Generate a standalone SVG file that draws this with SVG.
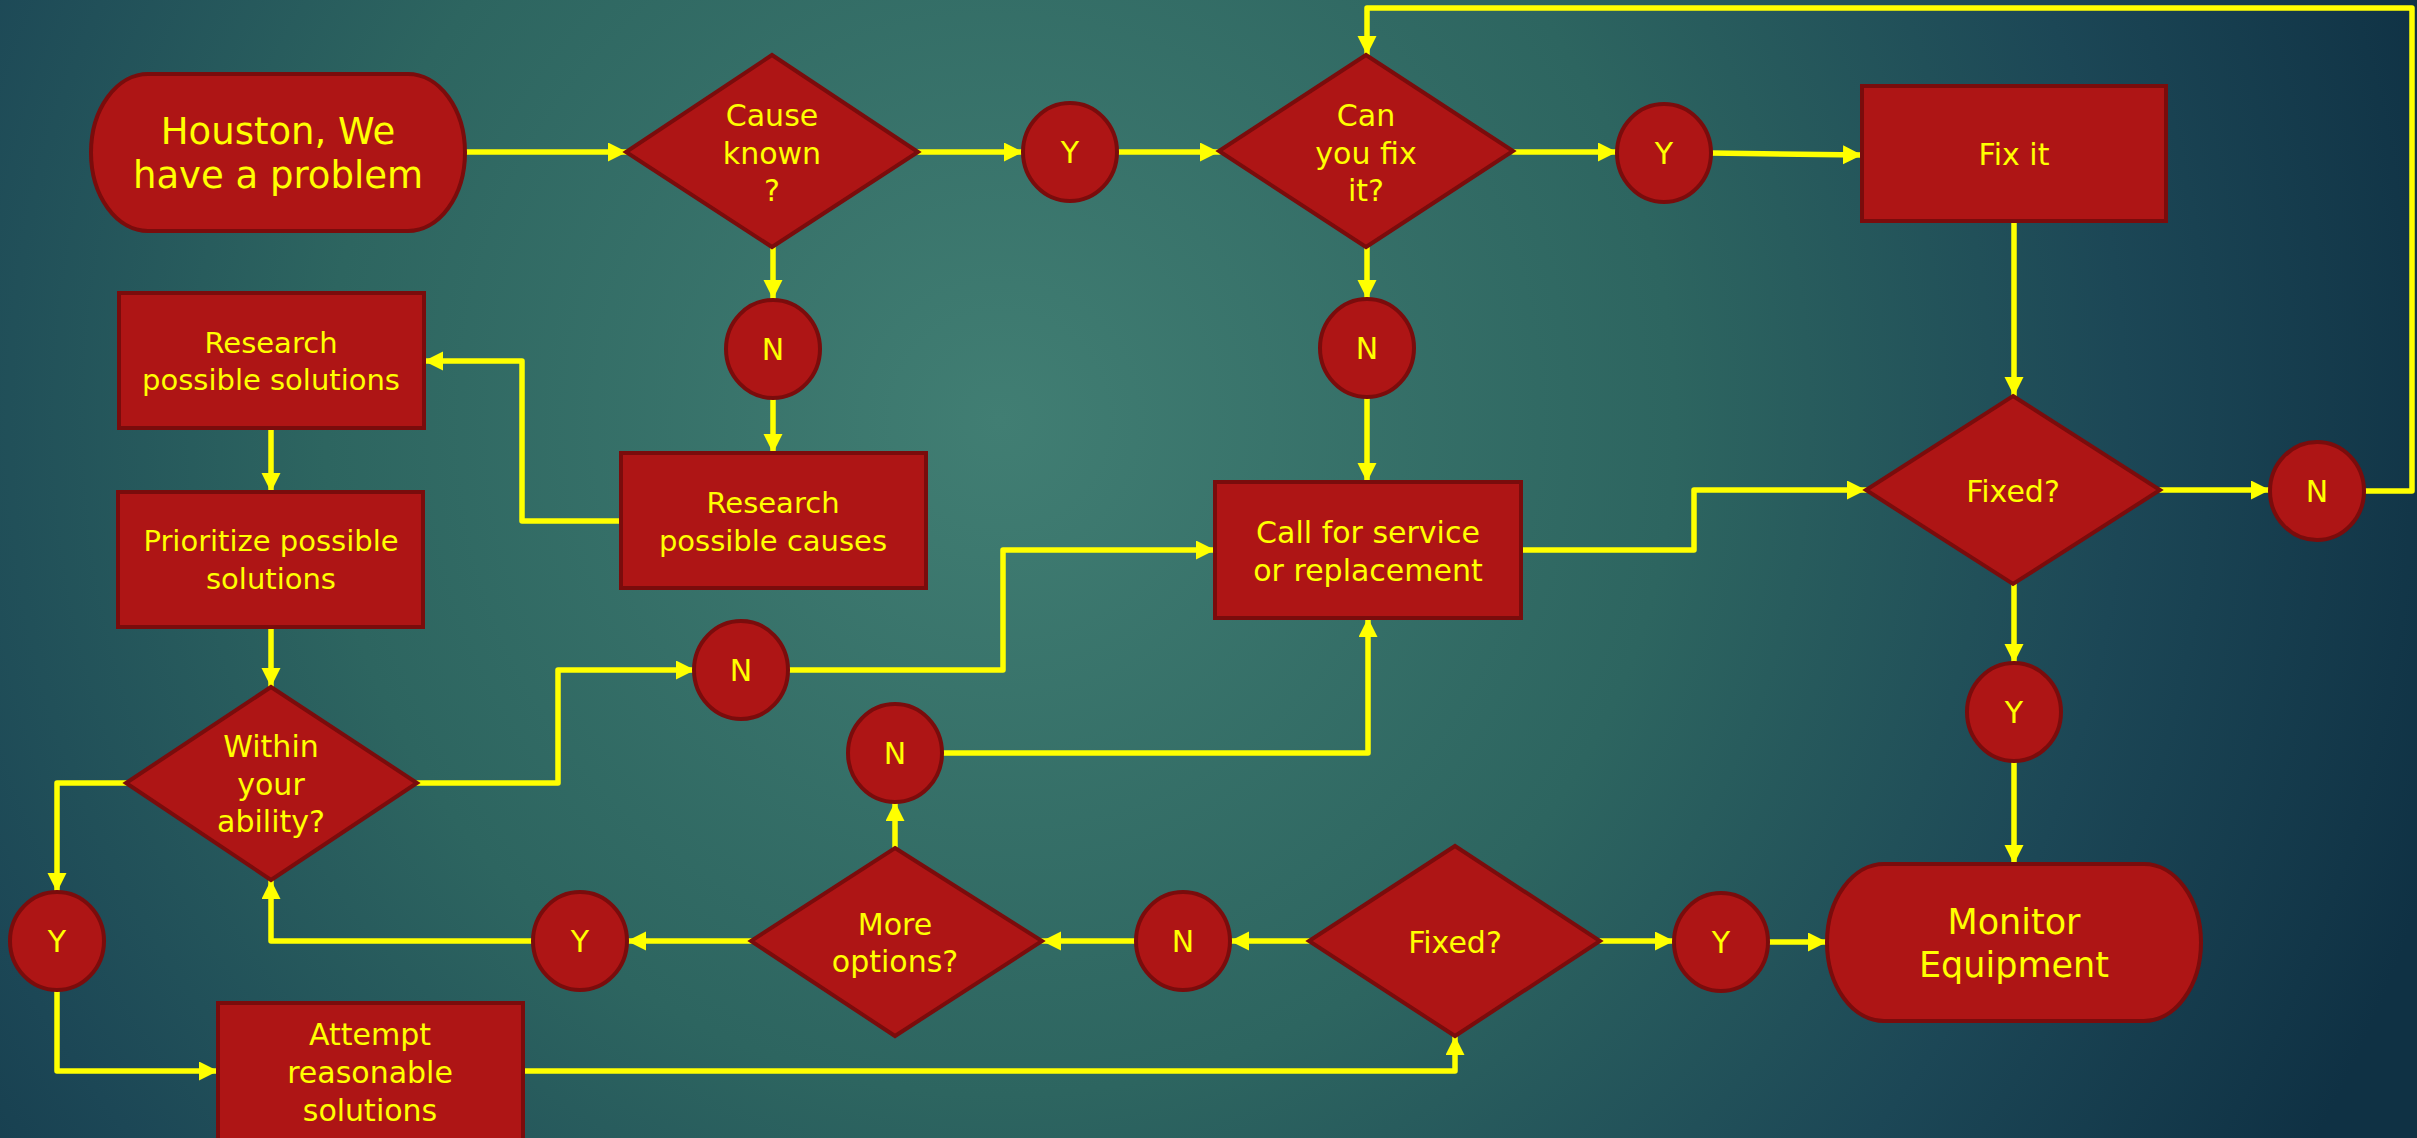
<svg xmlns="http://www.w3.org/2000/svg" width="2417" height="1138" viewBox="0 0 2417 1138">
<defs>
<radialGradient id="bg" gradientUnits="userSpaceOnUse" cx="1000" cy="420" r="1500">
<stop offset="0" stop-color="#417E73"/>
<stop offset="0.45" stop-color="#2D6560"/>
<stop offset="0.75" stop-color="#1C4756"/>
<stop offset="1" stop-color="#0F3144"/>
</radialGradient>
<marker id="arr" markerUnits="userSpaceOnUse" markerWidth="22" markerHeight="22" refX="19" refY="9.5" orient="auto">
<path d="M0,0 L19,9.5 L0,19 Z" fill="#FFFF00"/>
</marker>
<style>
.n{fill:#AE1515;stroke:#7A0C0C;stroke-width:4}
.t{font-family:"DejaVu Sans",sans-serif;fill:#FFFF00;text-anchor:middle}
.c{fill:none;stroke:#FFFF00;stroke-width:5.5;stroke-linecap:round;stroke-linejoin:round;marker-end:url(#arr)}
</style>
</defs>
<rect width="2417" height="1138" fill="url(#bg)"/>
<g id="connectors">
<path class="c" d="M465,152 H627"/>
<path class="c" d="M918,152 H1023"/>
<path class="c" d="M1117,152 H1219"/>
<path class="c" d="M1513,152 H1617"/>
<path class="c" d="M1711,153 L1862,155"/>
<path class="c" d="M773,247 V299"/>
<path class="c" d="M773,399 V453"/>
<path class="c" d="M621,521 H522 V361 H424"/>
<path class="c" d="M271,428 V492"/>
<path class="c" d="M271,627 V687"/>
<path class="c" d="M1367,247 V299"/>
<path class="c" d="M1367,398 V482"/>
<path class="c" d="M2014,221 V396"/>
<path class="c" d="M2160,490 H2270"/>
<path class="c" d="M2364,491 H2412 V8 H1367 V55"/>
<path class="c" d="M1521,550 H1694 V490 H1866"/>
<path class="c" d="M2014,584 V663"/>
<path class="c" d="M2014,761 V864"/>
<path class="c" d="M417,783 H558 V670 H695"/>
<path class="c" d="M788,670 H1003 V550 H1215"/>
<path class="c" d="M941,753 H1368 V618"/>
<path class="c" d="M895,848 V802"/>
<path class="c" d="M1309,941 H1230"/>
<path class="c" d="M1136,941 H1042"/>
<path class="c" d="M751,941 H627"/>
<path class="c" d="M533,941 H271 V880"/>
<path class="c" d="M126,783 H57 V892"/>
<path class="c" d="M57,991 V1071 H218"/>
<path class="c" d="M523,1071 H1455 V1036"/>
<path class="c" d="M1600,941 H1674"/>
<path class="c" d="M1768,942 H1827"/>
</g>
<g id="start">
<rect class="n" x="91" y="74" width="374" height="157" rx="57" ry="78.5"/>
<text class="t" font-size="37" x="278" y="144">Houston, We</text>
<text class="t" font-size="37" x="278" y="188">have a problem</text>
</g>
<g id="cause-known">
<polygon class="n" points="772,55 918,152 772,247 626,152"/>
<text class="t" font-size="30" x="772" y="126">Cause</text>
<text class="t" font-size="30" x="772" y="164">known</text>
<text class="t" font-size="30" x="772" y="201">?</text>
</g>
<g id="y1">
<ellipse class="n" cx="1070" cy="152" rx="47" ry="49"/>
<text class="t" font-size="30" x="1070" y="163">Y</text>
</g>
<g id="can-fix">
<polygon class="n" points="1366,55 1513,151 1366,247 1219,151"/>
<text class="t" font-size="30" x="1366" y="126">Can</text>
<text class="t" font-size="30" x="1366" y="164">you fix</text>
<text class="t" font-size="30" x="1366" y="201">it?</text>
</g>
<g id="y2">
<ellipse class="n" cx="1664" cy="153" rx="47" ry="49"/>
<text class="t" font-size="30" x="1664" y="164">Y</text>
</g>
<g id="fix-it">
<rect class="n" x="1862" y="86" width="304" height="135"/>
<text class="t" font-size="30" x="2014" y="165">Fix it</text>
</g>
<g id="fixed-right">
<polygon class="n" points="2013,396 2160,490 2013,584 1866,490"/>
<text class="t" font-size="30" x="2013" y="502">Fixed?</text>
</g>
<g id="n-right">
<ellipse class="n" cx="2317" cy="491" rx="47" ry="49"/>
<text class="t" font-size="30" x="2317" y="502">N</text>
</g>
<g id="n-cause">
<ellipse class="n" cx="773" cy="349" rx="47" ry="49"/>
<text class="t" font-size="30" x="773" y="360">N</text>
</g>
<g id="research-solutions">
<rect class="n" x="119" y="293" width="305" height="135"/>
<text class="t" font-size="29" x="271" y="353">Research</text>
<text class="t" font-size="29" x="271" y="390">possible solutions</text>
</g>
<g id="research-causes">
<rect class="n" x="621" y="453" width="305" height="135"/>
<text class="t" font-size="29" x="773" y="513">Research</text>
<text class="t" font-size="29" x="773" y="551">possible causes</text>
</g>
<g id="n-fix">
<ellipse class="n" cx="1367" cy="348" rx="47" ry="49"/>
<text class="t" font-size="30" x="1367" y="359">N</text>
</g>
<g id="call-service">
<rect class="n" x="1215" y="482" width="306" height="136"/>
<text class="t" font-size="30" x="1368" y="543">Call for service</text>
<text class="t" font-size="30" x="1368" y="581">or replacement</text>
</g>
<g id="prioritize">
<rect class="n" x="118" y="492" width="305" height="135"/>
<text class="t" font-size="29" x="271" y="551">Prioritize possible</text>
<text class="t" font-size="29" x="271" y="589">solutions</text>
</g>
<g id="within-ability">
<polygon class="n" points="271,687 417,783 271,880 126,783"/>
<text class="t" font-size="30" x="271" y="757">Within</text>
<text class="t" font-size="30" x="271" y="795">your</text>
<text class="t" font-size="30" x="271" y="832">ability?</text>
</g>
<g id="n-ability">
<ellipse class="n" cx="741" cy="670" rx="47" ry="49"/>
<text class="t" font-size="30" x="741" y="681">N</text>
</g>
<g id="n-options">
<ellipse class="n" cx="895" cy="753" rx="47" ry="49"/>
<text class="t" font-size="30" x="895" y="764">N</text>
</g>
<g id="more-options">
<polygon class="n" points="895,848 1042,941 895,1036 751,941"/>
<text class="t" font-size="30" x="895" y="935">More</text>
<text class="t" font-size="30" x="895" y="972">options?</text>
</g>
<g id="n-fixed">
<ellipse class="n" cx="1183" cy="941" rx="47" ry="49"/>
<text class="t" font-size="30" x="1183" y="952">N</text>
</g>
<g id="fixed-lower">
<polygon class="n" points="1455,846 1600,941 1455,1036 1309,941"/>
<text class="t" font-size="30" x="1455" y="953">Fixed?</text>
</g>
<g id="y-options">
<ellipse class="n" cx="580" cy="941" rx="47" ry="49"/>
<text class="t" font-size="30" x="580" y="952">Y</text>
</g>
<g id="y-ability">
<ellipse class="n" cx="57" cy="941" rx="47" ry="49"/>
<text class="t" font-size="30" x="57" y="952">Y</text>
</g>
<g id="attempt">
<rect class="n" x="218" y="1003" width="305" height="145"/>
<text class="t" font-size="30" x="370" y="1045">Attempt</text>
<text class="t" font-size="30" x="370" y="1083">reasonable</text>
<text class="t" font-size="30" x="370" y="1121">solutions</text>
</g>
<g id="y-fixed-lower">
<ellipse class="n" cx="1721" cy="942" rx="47" ry="49"/>
<text class="t" font-size="30" x="1721" y="953">Y</text>
</g>
<g id="y-fixed-right">
<ellipse class="n" cx="2014" cy="712" rx="47" ry="49"/>
<text class="t" font-size="30" x="2014" y="723">Y</text>
</g>
<g id="monitor">
<rect class="n" x="1827" y="864" width="374" height="157" rx="57" ry="78.5"/>
<text class="t" font-size="35" x="2014" y="934">Monitor</text>
<text class="t" font-size="35" x="2014" y="977">Equipment</text>
</g>
</svg>
